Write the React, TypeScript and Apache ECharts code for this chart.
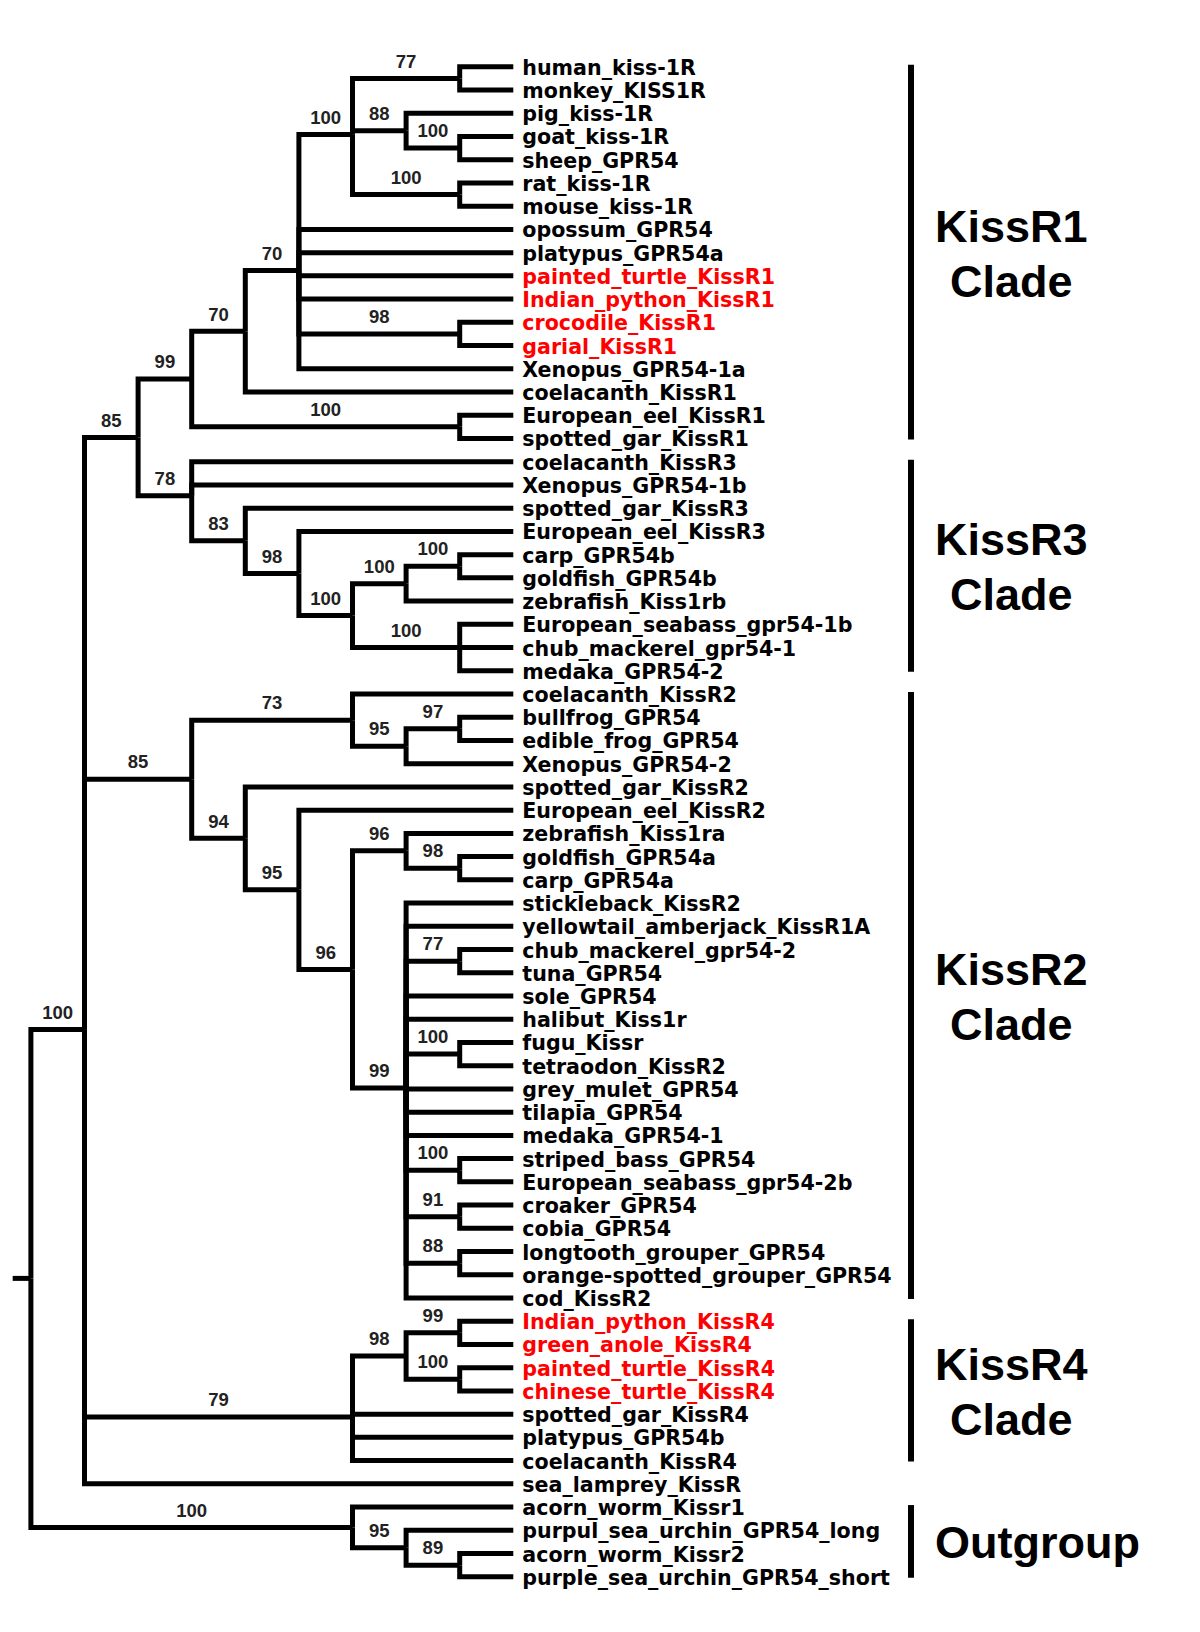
import React, { useEffect, useRef } from "react";
import * as echarts from "echarts";

// ---------- DATA ----------
const leafNames: string[] = [
  "human_kiss-1R", "monkey_KISS1R", "pig_kiss-1R", "goat_kiss-1R", "sheep_GPR54",
  "rat_kiss-1R", "mouse_kiss-1R", "opossum_GPR54", "platypus_GPR54a",
  "painted_turtle_KissR1", "Indian_python_KissR1", "crocodile_KissR1", "garial_KissR1",
  "Xenopus_GPR54-1a", "coelacanth_KissR1", "European_eel_KissR1", "spotted_gar_KissR1",
  "coelacanth_KissR3", "Xenopus_GPR54-1b", "spotted_gar_KissR3", "European_eel_KissR3",
  "carp_GPR54b", "goldfish_GPR54b", "zebrafish_Kiss1rb", "European_seabass_gpr54-1b",
  "chub_mackerel_gpr54-1", "medaka_GPR54-2",
  "coelacanth_KissR2", "bullfrog_GPR54", "edible_frog_GPR54", "Xenopus_GPR54-2",
  "spotted_gar_KissR2", "European_eel_KissR2", "zebrafish_Kiss1ra", "goldfish_GPR54a",
  "carp_GPR54a", "stickleback_KissR2", "yellowtail_amberjack_KissR1A", "chub_mackerel_gpr54-2",
  "tuna_GPR54", "sole_GPR54", "halibut_Kiss1r", "fugu_Kissr", "tetraodon_KissR2",
  "grey_mulet_GPR54", "tilapia_GPR54", "medaka_GPR54-1", "striped_bass_GPR54",
  "European_seabass_gpr54-2b", "croaker_GPR54", "cobia_GPR54", "longtooth_grouper_GPR54",
  "orange-spotted_grouper_GPR54", "cod_KissR2",
  "Indian_python_KissR4", "green_anole_KissR4", "painted_turtle_KissR4", "chinese_turtle_KissR4",
  "spotted_gar_KissR4", "platypus_GPR54b", "coelacanth_KissR4", "sea_lamprey_KissR",
  "acorn_worm_Kissr1", "purpul_sea_urchin_GPR54_long", "acorn_worm_Kissr2",
  "purple_sea_urchin_GPR54_short",
];

const redLeaves: string[] = [
  "painted_turtle_KissR1", "Indian_python_KissR1", "crocodile_KissR1", "garial_KissR1",
  "Indian_python_KissR4", "green_anole_KissR4", "painted_turtle_KissR4", "chinese_turtle_KissR4",
];

// [id, level (column), bootstrap support, children]
const internalNodes: [string, number, string, string[]][] = [
  ["root", 0, "", ["ingroup", "outgroup"]],
  ["ingroup", 1, "100", ["kr13", "kr2", "kr4", "sea_lamprey_KissR"]],
  ["kr13", 2, "85", ["kr1", "kr3"]],
  ["kr1", 3, "99", ["n70a", "eelgar1"]],
  ["n70a", 4, "70", ["n70b", "coelacanth_KissR1"]],
  ["n70b", 5, "70", ["mammals", "opossum_GPR54", "platypus_GPR54a", "painted_turtle_KissR1", "Indian_python_KissR1", "crocgar", "Xenopus_GPR54-1a"]],
  ["mammals", 6, "100", ["primates", "ungulates", "rodents"]],
  ["primates", 8, "77", ["human_kiss-1R", "monkey_KISS1R"]],
  ["ungulates", 7, "88", ["pig_kiss-1R", "goatsheep"]],
  ["goatsheep", 8, "100", ["goat_kiss-1R", "sheep_GPR54"]],
  ["rodents", 8, "100", ["rat_kiss-1R", "mouse_kiss-1R"]],
  ["crocgar", 8, "98", ["crocodile_KissR1", "garial_KissR1"]],
  ["eelgar1", 8, "100", ["European_eel_KissR1", "spotted_gar_KissR1"]],
  ["kr3", 3, "78", ["coelacanth_KissR3", "Xenopus_GPR54-1b", "n83"]],
  ["n83", 4, "83", ["spotted_gar_KissR3", "n98r3"]],
  ["n98r3", 5, "98", ["European_eel_KissR3", "teleost3"]],
  ["teleost3", 6, "100", ["cyprin3", "perc3"]],
  ["cyprin3", 7, "100", ["carpgold3", "zebrafish_Kiss1rb"]],
  ["carpgold3", 8, "100", ["carp_GPR54b", "goldfish_GPR54b"]],
  ["perc3", 8, "100", ["European_seabass_gpr54-1b", "chub_mackerel_gpr54-1", "medaka_GPR54-2"]],
  ["kr2", 3, "85", ["n73", "n94"]],
  ["n73", 6, "73", ["coelacanth_KissR2", "n95frog"]],
  ["n95frog", 7, "95", ["frogs", "Xenopus_GPR54-2"]],
  ["frogs", 8, "97", ["bullfrog_GPR54", "edible_frog_GPR54"]],
  ["n94", 4, "94", ["spotted_gar_KissR2", "n95t"]],
  ["n95t", 5, "95", ["European_eel_KissR2", "n96a"]],
  ["n96a", 6, "96", ["cyprin2", "perc2"]],
  ["cyprin2", 7, "96", ["zebrafish_Kiss1ra", "goldcarp2"]],
  ["goldcarp2", 8, "98", ["goldfish_GPR54a", "carp_GPR54a"]],
  ["perc2", 7, "99", ["stickleback_KissR2", "yellowtail_amberjack_KissR1A", "chubtuna", "sole_GPR54", "halibut_Kiss1r", "fugutet", "grey_mulet_GPR54", "tilapia_GPR54", "medaka_GPR54-1", "stripedsea", "croakcobia", "groupers", "cod_KissR2"]],
  ["chubtuna", 8, "77", ["chub_mackerel_gpr54-2", "tuna_GPR54"]],
  ["fugutet", 8, "100", ["fugu_Kissr", "tetraodon_KissR2"]],
  ["stripedsea", 8, "100", ["striped_bass_GPR54", "European_seabass_gpr54-2b"]],
  ["croakcobia", 8, "91", ["croaker_GPR54", "cobia_GPR54"]],
  ["groupers", 8, "88", ["longtooth_grouper_GPR54", "orange-spotted_grouper_GPR54"]],
  ["kr4", 6, "79", ["sq4", "spotted_gar_KissR4", "platypus_GPR54b", "coelacanth_KissR4"]],
  ["sq4", 7, "98", ["squam4", "turtles4"]],
  ["squam4", 8, "99", ["Indian_python_KissR4", "green_anole_KissR4"]],
  ["turtles4", 8, "100", ["painted_turtle_KissR4", "chinese_turtle_KissR4"]],
  ["outgroup", 6, "100", ["acorn_worm_Kissr1", "og95"]],
  ["og95", 7, "95", ["purpul_sea_urchin_GPR54_long", "og89"]],
  ["og89", 8, "89", ["acorn_worm_Kissr2", "purple_sea_urchin_GPR54_short"]],
];

const cladeLabels: string[][] = [
  ["KissR1", "Clade"], ["KissR3", "Clade"], ["KissR2", "Clade"], ["KissR4", "Clade"], ["Outgroup"],
];
const cladeFirstLeaf: string[] = [
  "human_kiss-1R", "coelacanth_KissR3", "coelacanth_KissR2", "Indian_python_KissR4", "acorn_worm_Kissr1",
];
const cladeLastLeaf: string[] = [
  "spotted_gar_KissR1", "medaka_GPR54-2", "cod_KissR2", "coelacanth_KissR4", "purple_sea_urchin_GPR54_short",
];

const LEAF_LEVEL = 9;
const ROOT_STUB_LEVEL = -0.34;
const BRACKET_LEVEL = 16.42;

// ---------- LAYOUT (from data) ----------
function buildTree() {
  const pos: Record<string, { x: number; y: number }> = {};
  leafNames.forEach((n, i) => (pos[n] = { x: LEAF_LEVEL, y: i }));
  const nodeMap = new Map(internalNodes.map((n) => [n[0], n]));
  const compute = (id: string): { x: number; y: number } => {
    if (pos[id]) return pos[id];
    const nd = nodeMap.get(id)!;
    const ys = nd[3].map((c) => compute(c).y);
    pos[id] = { x: nd[1], y: ys.reduce((a, b) => a + b, 0) / ys.length };
    return pos[id];
  };
  compute("root");
  const edges: number[][] = [];
  const supports: number[][] = [];
  const supportText: string[] = [];
  internalNodes.forEach((nd) => {
    const p = pos[nd[0]];
    nd[3].forEach((c) => {
      const q = pos[c];
      edges.push([p.x, p.y, q.x, q.y]);
      const child = nodeMap.get(c);
      if (child && child[2]) {
        supports.push([(p.x + q.x) / 2, q.y]);
        supportText.push(child[2]);
      }
    });
  });
  const r = pos["root"];
  edges.push([ROOT_STUB_LEVEL, r.y, r.x, r.y]);
  return { edges, supports, supportText };
}

const measureCtx = (() => {
  try {
    return document.createElement("canvas").getContext("2d");
  } catch (e) {
    return null;
  }
})();
function textWidth(t: string, font: string) {
  if (!measureCtx) return t.length * 25;
  measureCtx.font = font;
  return measureCtx.measureText(t).width;
}

export default function App() {
  const ref = useRef<HTMLDivElement>(null);
  useEffect(() => {
    if (!ref.current) return;
    const chart = echarts.init(ref.current, undefined, { renderer: "svg" });
    const { edges, supports, supportText } = buildTree();
    const X0 = 30.9, DX = 53.6, Y0 = 66.8, DY = 23.23;
    const xMin = -0.5, xMax = 20;
    const cladeFontSize = 45;
    const cladeFont = `bold ${cladeFontSize}px "Liberation Sans", Arial, sans-serif`;

    const cladeData = cladeLabels.map((_, i) => [
      BRACKET_LEVEL,
      leafNames.indexOf(cladeFirstLeaf[i]),
      leafNames.indexOf(cladeLastLeaf[i]),
    ]);

    chart.setOption({
      animation: false,
      backgroundColor: "#ffffff",
      grid: {
        left: X0 + xMin * DX,
        right: 1200 - (X0 + xMax * DX),
        top: Y0,
        bottom: 1632 - (Y0 + 65 * DY),
      },
      xAxis: { type: "value", min: xMin, max: xMax, show: false },
      yAxis: { type: "value", min: 0, max: 65, inverse: true, show: false },
      series: [
        {
          type: "custom",
          name: "branches",
          data: edges,
          encode: { x: [0, 2], y: [1, 3] },
          renderItem: (params: any, api: any) => {
            const p = api.coord([api.value(0), api.value(1)]);
            const c = api.coord([api.value(2), api.value(3)]);
            const pts =
              Math.abs(p[1] - c[1]) < 0.5
                ? [[p[0], c[1]], [c[0], c[1]]]
                : [[p[0], p[1]], [p[0], c[1]], [c[0], c[1]]];
            return {
              type: "polyline",
              shape: { points: pts },
              style: { stroke: "#000", lineWidth: 5, fill: null, lineJoin: "miter", lineCap: "butt" },
            };
          },
        },
        {
          type: "custom",
          name: "leaves",
          data: leafNames.map((_, i) => [LEAF_LEVEL, i]),
          encode: { x: 0, y: 1 },
          renderItem: (params: any, api: any) => {
            const p = api.coord([api.value(0), api.value(1)]);
            const name = leafNames[params.dataIndex];
            return {
              type: "text",
              x: p[0] + 9,
              y: p[1] + 1,
              style: {
                text: name,
                fill: redLeaves.includes(name) ? "#ff0000" : "#000",
                fontSize: 20.6,
                fontWeight: "bold",
                fontFamily: '"DejaVu Sans", Verdana, sans-serif',
                align: "left",
                verticalAlign: "middle",
              },
            };
          },
        },
        {
          type: "custom",
          name: "support",
          data: supports,
          encode: { x: 0, y: 1 },
          renderItem: (params: any, api: any) => {
            const p = api.coord([api.value(0), api.value(1)]);
            return {
              type: "text",
              x: p[0],
              y: p[1] - 17.3,
              style: {
                text: supportText[params.dataIndex],
                fill: "#222",
                fontSize: 18.5,
                fontWeight: "bold",
                fontFamily: '"Liberation Sans", Arial, sans-serif',
                align: "center",
                verticalAlign: "middle",
              },
            };
          },
        },
        {
          type: "custom",
          name: "clades",
          data: cladeData,
          encode: { x: 0, y: [1, 2] },
          renderItem: (params: any, api: any) => {
            const a = api.coord([api.value(0), api.value(1)]);
            const b = api.coord([api.value(0), api.value(2)]);
            const lines = cladeLabels[params.dataIndex];
            const maxW = Math.max(...lines.map((t) => textWidth(t, cladeFont)));
            const left = a[0] + 24;
            return {
              type: "group",
              children: [
                {
                  type: "line",
                  shape: { x1: a[0], y1: a[1] - 2, x2: b[0], y2: b[1] + 1 },
                  style: { stroke: "#000", lineWidth: 6 },
                },
                {
                  type: "text",
                  x: left + maxW / 2,
                  y: (a[1] + b[1]) / 2 + 1,
                  style: {
                    text: lines.join("\n"),
                    fill: "#000",
                    fontSize: cladeFontSize,
                    fontWeight: "bold",
                    fontFamily: '"Liberation Sans", Arial, sans-serif',
                    lineHeight: 55,
                    align: "center",
                    verticalAlign: "middle",
                  },
                },
              ],
            };
          },
        },
      ],
    });
    return () => chart.dispose();
  }, []);
  return (
    <div
      ref={ref}
      style={{ position: "absolute", left: 0, top: 0, width: 1200, height: 1632, background: "#fff" }}
    />
  );
}
